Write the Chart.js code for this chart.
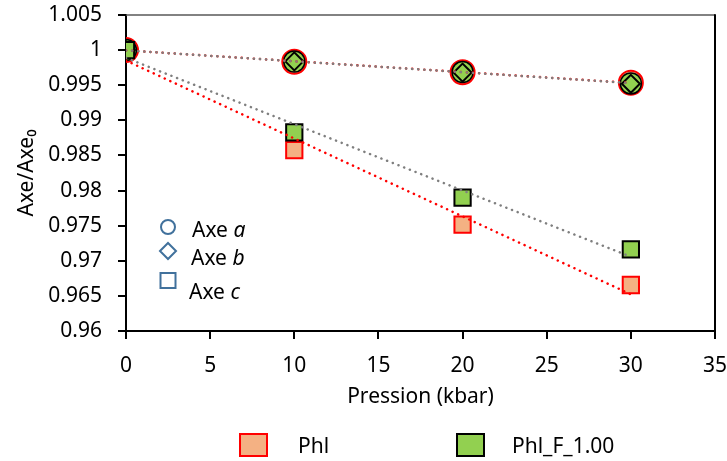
<!DOCTYPE html>
<html>
<head>
<meta charset="utf-8">
<script src="https://cdn.jsdelivr.net/npm/chart.js@4"></script>
<style>
html, body { margin: 0; padding: 0; background: #fff; }
</style>
</head>
<body>
<canvas id="myChart" width="727" height="461"></canvas>
<script>
// ===== data
var pressure = [0, 10, 20, 30];

// Phl
var phlA = [1, 0.99835, 0.99685, 0.99535];
var phlB = [1, 0.9984, 0.9968, 0.9953];
var phlC = [1, 0.98577, 0.97514, 0.96655];

// Phl_F_1.00
var phlFA = [1, 0.99838, 0.99688, 0.99525];
var phlFB = [1, 0.9984, 0.9968, 0.9952];
var phlFC = [1, 0.98829, 0.97899, 0.97163];

// dotted trend lines, ends read at x = 0 and x = 30
var trendX = [0, 30];
var phlTrendA = [0.99996, 0.99532];
var phlTrendC = [0.99851, 0.96522];
var phlFTrendA = [0.99996, 0.9953];
var phlFTrendC = [0.99889, 0.97057];

// axes
var xRange = [0, 35];
var yRange = [0.96, 1.005];
var seriesNames = ["Phl", "Phl_F_1.00"];
var axeNames = ["a", "b", "c"];

function pts(xs, ys) {
  return xs.map(function (x, i) { return { x: x, y: ys[i] }; });
}

var FONT = "'Noto Sans', sans-serif";
var FS = 21;
var orange = "#f4b183";
var green = "#92d050";
var red = "#ff0000";
var grey = "#7f7f7f";
var blue = "#41719c";

// box round the plot + the two hand drawn legends
var extras = {
  id: "extras",
  afterDraw: function (chart) {
    var c = chart.ctx, a = chart.chartArea;
    c.save();
    // top + right border
    c.lineWidth = 1.5;
    c.strokeStyle = "#595959";
    c.beginPath();
    c.moveTo(a.left, a.top);
    c.lineTo(a.right, a.top);
    c.stroke();
    c.lineWidth = 2;
    c.strokeStyle = "#000";
    c.beginPath();
    c.moveTo(a.right, a.top - 0.75);
    c.lineTo(a.right, a.bottom);
    c.stroke();

    // legend of the axes (circle / diamond / square)
    c.strokeStyle = blue;
    c.lineWidth = 2;
    var mx = a.left + 42;
    c.beginPath();
    c.arc(mx, a.top + 212, 7, 0, Math.PI * 2);
    c.stroke();
    c.beginPath();
    c.moveTo(mx - 8, a.top + 236);
    c.lineTo(mx, a.top + 228);
    c.lineTo(mx + 8, a.top + 236);
    c.lineTo(mx, a.top + 244);
    c.closePath();
    c.stroke();
    c.strokeRect(mx - 7.5, a.top + 258, 15, 15);

    c.fillStyle = "#000";
    c.textBaseline = "alphabetic";
    var baseY = [a.top + 222, a.top + 250, a.top + 284];
    var tx = [a.left + 66, a.left + 65, a.left + 63];
    axeNames.forEach(function (n, i) {
      c.font = FS + "px " + FONT;
      c.fillText("Axe ", tx[i], baseY[i]);
      var w = c.measureText("Axe ").width;
      c.font = "italic " + FS + "px " + FONT;
      c.fillText(n, tx[i] + w, baseY[i]);
    });

    // bottom legend
    var ly = 434;
    var boxes = [
      { x: a.left + 114, fill: orange, line: red, tx: a.left + 172 },
      { x: a.left + 331, fill: green, line: "#000", tx: a.left + 386 }
    ];
    boxes.forEach(function (b, i) {
      c.fillStyle = b.fill;
      c.fillRect(b.x, ly, 27, 22);
      c.strokeStyle = b.line;
      c.lineWidth = 2;
      c.strokeRect(b.x, ly, 27, 22);
      c.fillStyle = "#000";
      c.font = FS + "px " + FONT;
      c.fillText(seriesNames[i], b.tx, ly + 19);
    });
    c.restore();
  }
};

var ctx = document.getElementById("myChart").getContext("2d");
var myChart = new Chart(ctx, {
  type: "scatter",
  data: {
    datasets: [
      // trend lines on top
      { data: pts(trendX, phlFTrendA), showLine: true, pointRadius: 0, borderColor: grey, borderWidth: 2.5, borderDash: [0.1, 6], borderCapStyle: "round", order: 1 },
      { data: pts(trendX, phlFTrendC), showLine: true, pointRadius: 0, borderColor: grey, borderWidth: 2.5, borderDash: [0.1, 6], borderCapStyle: "round", order: 1 },
      { data: pts(trendX, phlTrendA), showLine: true, pointRadius: 0, borderColor: red, borderWidth: 2.5, borderDash: [0.1, 6], borderCapStyle: "round", order: 2 },
      { data: pts(trendX, phlTrendC), showLine: true, pointRadius: 0, borderColor: red, borderWidth: 2.5, borderDash: [0.1, 6], borderCapStyle: "round", order: 2 },
      // Phl_F_1.00
      { label: seriesNames[1], data: pts(pressure, phlFC), pointStyle: "rect", pointRadius: 11.5, backgroundColor: green, borderColor: "#000", borderWidth: 2, order: 3 },
      { label: seriesNames[1], data: pts(pressure, phlFB), pointStyle: "rectRot", pointRadius: 9, backgroundColor: green, borderColor: "#000", borderWidth: 2, order: 4 },
      { label: seriesNames[1], data: pts(pressure, phlFA), pointStyle: "circle", pointRadius: 10.5, backgroundColor: green, borderColor: "#000", borderWidth: 1.5, order: 5 },
      // Phl
      { label: seriesNames[0], data: pts(pressure, phlC), pointStyle: "rect", pointRadius: 11.5, backgroundColor: orange, borderColor: red, borderWidth: 2, order: 6 },
      { label: seriesNames[0], data: pts(pressure, phlB), pointStyle: "rectRot", pointRadius: 9, backgroundColor: orange, borderColor: red, borderWidth: 2, order: 7 },
      { label: seriesNames[0], data: pts(pressure, phlA), pointStyle: "circle", pointRadius: 12, backgroundColor: orange, borderColor: red, borderWidth: 2, order: 8 }
    ]
  },
  options: {
    responsive: false,
    animation: false,
    devicePixelRatio: 1,
    layout: { autoPadding: false, padding: { top: 0, right: 0, bottom: 48, left: 0 } },
    plugins: {
      legend: { display: false },
      tooltip: { enabled: false }
    },
    scales: {
      x: {
        type: "linear",
        min: xRange[0],
        max: xRange[1],
        ticks: { stepSize: 5, color: "#000", font: { family: FONT, size: FS }, padding: 14 },
        grid: { drawOnChartArea: false, drawTicks: true, tickLength: 8, color: "#000", lineWidth: 2 },
        border: { color: "#000", width: 2 },
        title: { display: true, text: "Pression (kbar)", color: "#000", font: { family: FONT, size: FS }, padding: { top: 1, bottom: 3 } },
        afterFit: function (s) { s.height = 82; s.paddingLeft = 0; s.paddingRight = 12; }
      },
      y: {
        type: "linear",
        min: yRange[0],
        max: yRange[1],
        ticks: {
          stepSize: 0.005, color: "#000", font: { family: FONT, size: FS }, padding: 16,
          callback: function (v) { return String(+v.toFixed(3)); }
        },
        grid: { drawOnChartArea: false, drawTicks: true, tickLength: 8, color: "#000", lineWidth: 2 },
        border: { color: "#000", width: 2 },
        title: { display: true, text: "Axe/Axe\u2080", color: "#000", font: { family: FONT, size: FS }, padding: { top: 14, bottom: 0 } },
        afterFit: function (s) { s.width = 126; s.paddingTop = 15; s.paddingBottom = 0; }
      }
    }
  },
  plugins: [extras]
});
</script>
</body>
</html>
